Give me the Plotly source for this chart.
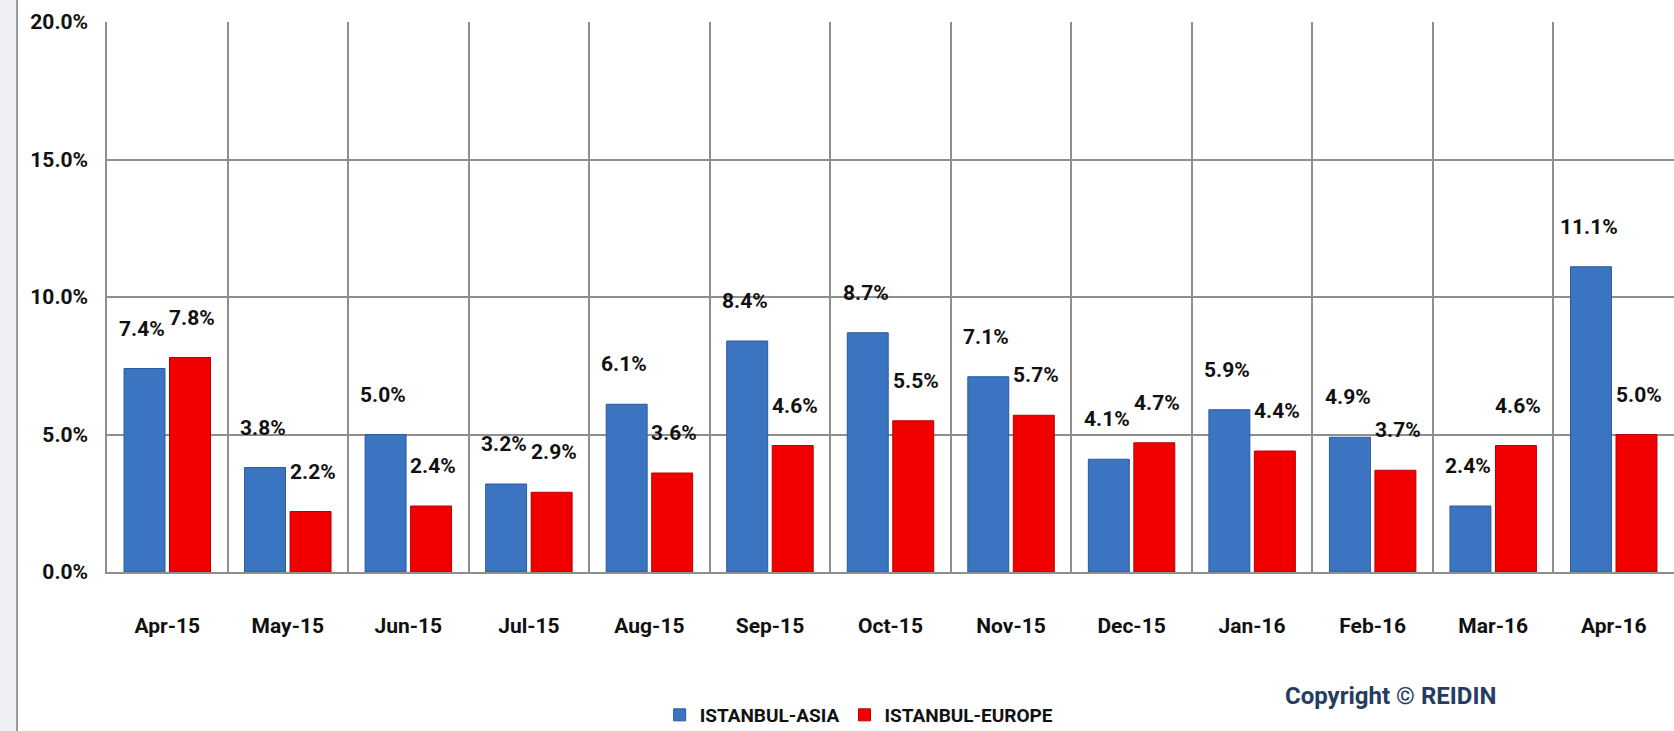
import plotly.graph_objects as go

months = ["Apr-15", "May-15", "Jun-15", "Jul-15", "Aug-15", "Sep-15", "Oct-15",
          "Nov-15", "Dec-15", "Jan-16", "Feb-16", "Mar-16", "Apr-16"]
asia = [7.4, 3.8, 5.0, 3.2, 6.1, 8.4, 8.7, 7.1, 4.1, 5.9, 4.9, 2.4, 11.1]
europe = [7.8, 2.2, 2.4, 2.9, 3.6, 4.6, 5.5, 5.7, 4.7, 4.4, 3.7, 4.6, 5.0]
y_ticks = [0, 5, 10, 15, 20]
y_tick_labels = ["0.0%", "5.0%", "10.0%", "15.0%", "20.0%"]

FONT = "Roboto, Lato, sans-serif"
BLUE = "#3b75c2"
RED = "#f20000"
GRID = "#8f8f8f"
TXT = "#111111"

fig = go.Figure()
fig.add_trace(go.Bar(x=months, y=asia, name="<b>ISTANBUL-ASIA</b>",
                     marker=dict(color=BLUE, line=dict(color="#2a5a9c", width=1))))
fig.add_trace(go.Bar(x=months, y=europe, name="<b>ISTANBUL-EUROPE</b>",
                     marker=dict(color=RED, line=dict(color="#b80000", width=1))))

annotations = []
for m, a, e in zip(months, asia, europe):
    annotations.append(dict(x=m, y=a, xref="x", yref="y", text=f"<b>{a:.1f}%</b>",
                            showarrow=False, xshift=-25, yshift=40, yanchor="middle",
                            font=dict(family=FONT, size=21, color=TXT)))
    annotations.append(dict(x=m, y=e, xref="x", yref="y", text=f"<b>{e:.1f}%</b>",
                            showarrow=False, xshift=25, yshift=40, yanchor="middle",
                            font=dict(family=FONT, size=21, color=TXT)))

annotations.append(dict(x=0.819, y=-0.225, xref="paper", yref="paper",
                        text="<b>Copyright © REIDIN</b>", showarrow=False,
                        xanchor="center", yanchor="middle",
                        font=dict(family=FONT, size=24, color="#263c60")))

shapes = [
    dict(type="rect", xref="paper", yref="paper", x0=-0.0683, x1=-0.0574, y0=-0.32, y1=1.1,
         fillcolor="#eef0f5", line=dict(width=0), layer="below"),
    dict(type="line", xref="paper", yref="paper", x0=-0.0574, x1=-0.0574, y0=-0.32, y1=1.1,
         line=dict(color="#7a7a7a", width=1.5)),
]

fig.update_layout(
    width=1674, height=731,
    margin=dict(l=107, r=0, t=22, b=159, autoexpand=False),
    paper_bgcolor="white", plot_bgcolor="white",
    barmode="group", bargap=0.245, bargroupgap=0.1,
    font=dict(family=FONT, size=21, color=TXT),
    showlegend=True,
    legend=dict(orientation="h", x=0.48, y=-0.26, xanchor="center", yanchor="middle",
                font=dict(family=FONT, size=19, color=TXT),
                itemwidth=30, traceorder="normal"),
    annotations=annotations,
    shapes=shapes,
)
fig.update_xaxes(type="category", range=[-0.5, 12.5], showgrid=True, gridcolor=GRID,
                 gridwidth=1.5, tickson="boundaries", ticks="", showline=True,
                 linecolor=GRID, linewidth=2, automargin=False,
                 tickfont=dict(family=FONT, size=21, color=TXT),
                 ticklabelstandoff=34, tickprefix="<b>", ticksuffix="</b>")
fig.update_yaxes(range=[0, 20], tickvals=y_ticks, ticktext=[f"<b>{t}</b>" for t in y_tick_labels],
                 showgrid=True, gridcolor=GRID, gridwidth=2, zeroline=False, automargin=False,
                 showline=True, linecolor=GRID, linewidth=1.5, ticks="",
                 tickfont=dict(family=FONT, size=21, color=TXT),
                 ticklabelstandoff=13)

fig.write_html("out.html", config={"displayModeBar": False},
               post_script="document.body.style.margin='0';document.body.style.overflow='hidden';")
